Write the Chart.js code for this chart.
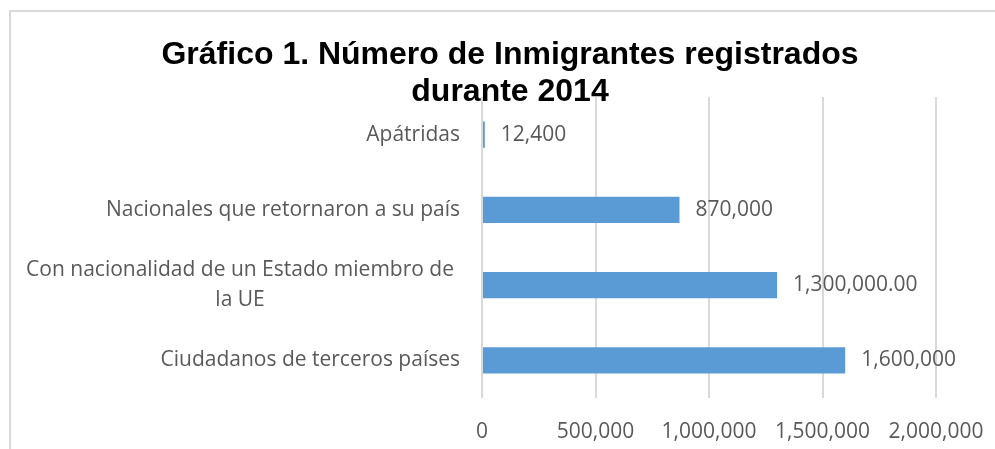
<!DOCTYPE html>
<html>
<head>
<meta charset="utf-8">
<script src="https://cdn.jsdelivr.net/npm/chart.js@4/dist/chart.umd.min.js"></script>
<style>
  html, body { margin: 0; padding: 0; background: #ffffff; overflow: hidden; }
  #wrap { position: relative; width: 995px; height: 449px; }
</style>
</head>
<body>
<div id="wrap"><canvas id="c"></canvas></div>
<script>
const titleLines = ['Gráfico 1. Número de Inmigrantes registrados', 'durante 2014'];
const categories = [
  'Apátridas',
  'Nacionales que retornaron a su país',
  ['Con nacionalidad de un Estado miembro de', 'la UE'],
  'Ciudadanos de terceros países'
];
const values = [12400, 870000, 1300000, 1600000];
const labelDecimals = [0, 0, 2, 0];
const axisMin = 0;
const axisMax = 2000000;
const axisStep = 500000;

const TEXT_FONT = '"Open Sans", sans-serif';
const TEXT_COLOR = '#595959';
const fmt = (v, d) => v.toLocaleString('en-US', { minimumFractionDigits: d, maximumFractionDigits: d });

const framePlugin = {
  id: 'frame',
  beforeDraw(chart) {
    const ctx = chart.ctx;
    ctx.save();
    ctx.strokeStyle = '#d9d9d9';
    ctx.lineWidth = 2;
    ctx.beginPath();
    ctx.moveTo(10, chart.height + 5);
    ctx.lineTo(10, 11);
    ctx.lineTo(chart.width + 5, 11);
    ctx.stroke();
    ctx.restore();
  }
};

const catLabelPlugin = {
  id: 'catLabels',
  afterDraw(chart) {
    const ctx = chart.ctx;
    const ys = chart.scales.y;
    const rightX = 460;
    const lh = 30;
    ctx.save();
    ctx.font = '21px ' + TEXT_FONT;
    ctx.fillStyle = TEXT_COLOR;
    ctx.textBaseline = 'middle';
    chart.data.labels.forEach((lab, i) => {
      const y = ys.getPixelForValue(i);
      const lines = Array.isArray(lab) ? lab : [lab];
      if (lines.length > 1) {
        const maxW = Math.max(...lines.map(l => ctx.measureText(l).width));
        const cx = rightX - 6 - maxW / 2;
        ctx.textAlign = 'center';
        lines.forEach((l, j) => {
          ctx.fillText(l, cx, y + (j - (lines.length - 1) / 2) * lh);
        });
      } else {
        ctx.textAlign = 'right';
        ctx.fillText(lines[0], rightX, y);
      }
    });
    ctx.restore();
  }
};

const valueLabelPlugin = {
  id: 'valueLabels',
  afterDatasetsDraw(chart) {
    const ctx = chart.ctx;
    const meta = chart.getDatasetMeta(0);
    ctx.save();
    ctx.font = '21px ' + TEXT_FONT;
    ctx.fillStyle = TEXT_COLOR;
    ctx.textBaseline = 'middle';
    ctx.textAlign = 'left';
    meta.data.forEach((el, i) => {
      ctx.fillText(fmt(values[i], labelDecimals[i]), el.x + 16, el.y);
    });
    ctx.restore();
  }
};

new Chart(document.getElementById('c'), {
  type: 'bar',
  data: {
    labels: categories,
    datasets: [{
      data: values,
      backgroundColor: '#5b9bd5',
      borderColor: '#5b9bd5',
      borderWidth: 0,
      barPercentage: 0.352,
      categoryPercentage: 1
    }]
  },
  options: {
    indexAxis: 'y',
    responsive: true,
    maintainAspectRatio: false,
    animation: false,
    layout: { padding: { left: 84, right: 59, top: 0, bottom: 0 } },
    plugins: {
      legend: { display: false },
      tooltip: { enabled: false },
      title: {
        display: true,
        text: titleLines,
        color: '#000000',
        font: { family: '"Liberation Sans", Arial, sans-serif', size: 32, weight: 'bold', lineHeight: '37px' },
        padding: { top: 37, bottom: -14 }
      }
    },
    scales: {
      x: {
        type: 'linear',
        min: axisMin,
        max: axisMax,
        ticks: {
          stepSize: axisStep,
          color: TEXT_COLOR,
          font: { family: TEXT_FONT, size: 21 },
          padding: 21,
          maxRotation: 0,
          callback: v => fmt(v, 0)
        },
        grid: { color: '#d9d9d9', lineWidth: 2, drawTicks: false },
        border: { display: false },
        afterFit: s => { s.height = 51; s.paddingLeft = 0; s.paddingRight = 0; }
      },
      y: {
        ticks: { display: false },
        grid: { display: false },
        border: { display: false },
        afterFit: s => { s.width = 398; }
      }
    }
  },
  plugins: [framePlugin, catLabelPlugin, valueLabelPlugin]
});
</script>
</body>
</html>
